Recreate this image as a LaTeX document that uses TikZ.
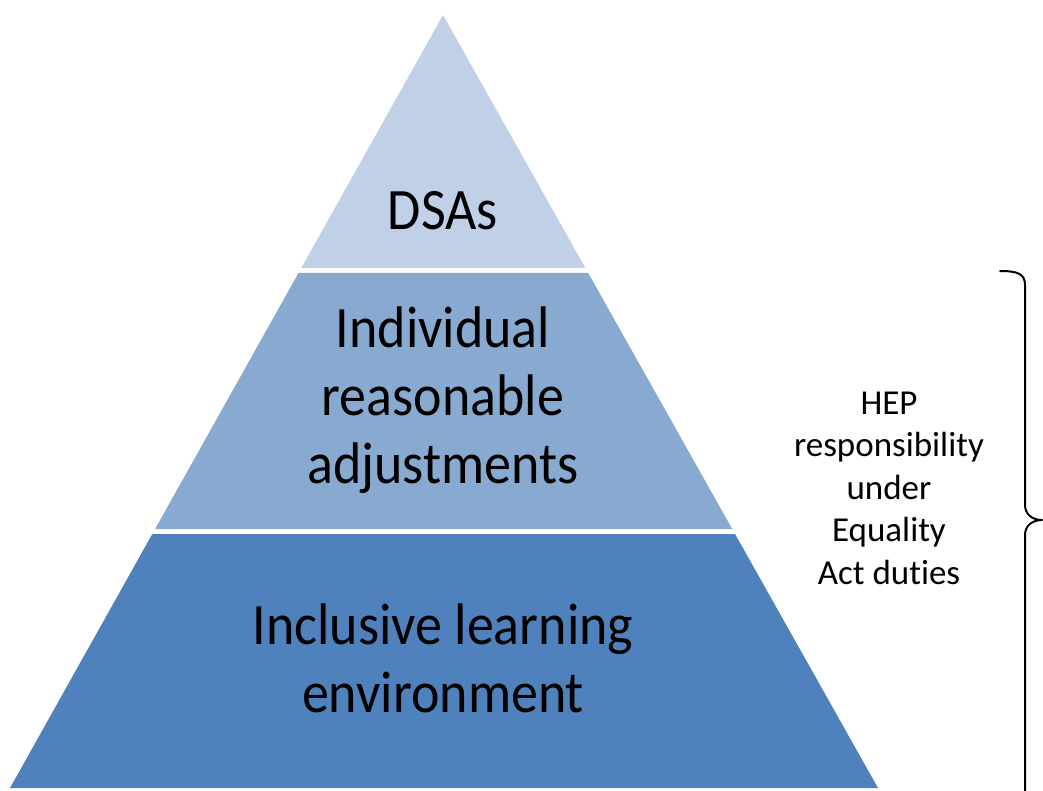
\documentclass[tikz,border=0pt]{standalone}
\usepackage{fontspec}
\setmainfont[Ligatures=NoCommon]{Carlito}
\newfontfamily\bigfont[Ligatures=NoCommon,FakeStretch=0.92]{Carlito}
\usetikzlibrary{calc}
\definecolor{topband}{HTML}{C0D1E7}
\definecolor{midband}{HTML}{88AAD1}
\definecolor{lowband}{HTML}{4F81BD}
\tikzset{
  band/.style={draw=none},
  bigtext/.style={inner sep=0pt, align=center, text=black, font=\bigfont\fontsize{58.7}{68}\selectfont},
  sidetext/.style={inner sep=0pt, align=center, text=black, font=\fontsize{35}{42.5}\selectfont},
  bracestyle/.style={draw=black, line width=2pt, line cap=round, line join=round}
}
\begin{document}
\begin{tikzpicture}[x=1pt,y=-1pt]
\useasboundingbox (0,0) rectangle (1043,790);
\clip (0,0) rectangle (1043,790);
% pyramid apex (443,15), base y=788 from x=10 to x=878
\coordinate (apex) at (443,15);
\coordinate (bl) at (10,788);
\coordinate (br) at (878,788);
% top band
\fill[topband, band] (apex) -- ($(apex)!{(268-15)/773}!(br)$) -- ($(apex)!{(268-15)/773}!(bl)$) -- cycle;
% middle band
\fill[midband, band] ($(apex)!{(273-15)/773}!(bl)$) -- ($(apex)!{(273-15)/773}!(br)$) -- ($(apex)!{(529-15)/773}!(br)$) -- ($(apex)!{(529-15)/773}!(bl)$) -- cycle;
% bottom band
\fill[lowband, band] ($(apex)!{(534-15)/773}!(bl)$) -- ($(apex)!{(534-15)/773}!(br)$) -- (br) -- (bl) -- cycle;
% texts
\node[bigtext] (dsas) at (443,210.5) {DSAs};
\node[bigtext] (ira) at (443,400) {Individual\\reasonable\\adjustments};
\node[bigtext] (ile) at (443,658) {Inclusive learning\\environment};
\node[sidetext] (hep) at (889,488) {HEP\\responsibility\\under\\Equality\\Act duties};
% brace
\coordinate (btop) at (1000,271);
\coordinate (btip) at (1042,520);
\draw[bracestyle] (btop) .. controls (1018,271) and (1025,274) .. (1025,285)
  -- (1025,505) .. controls (1025,514) and (1032,520) .. (btip)
  .. controls (1032,520) and (1025,526) .. (1025,535)
  -- (1025,800);
\end{tikzpicture}
\end{document}
